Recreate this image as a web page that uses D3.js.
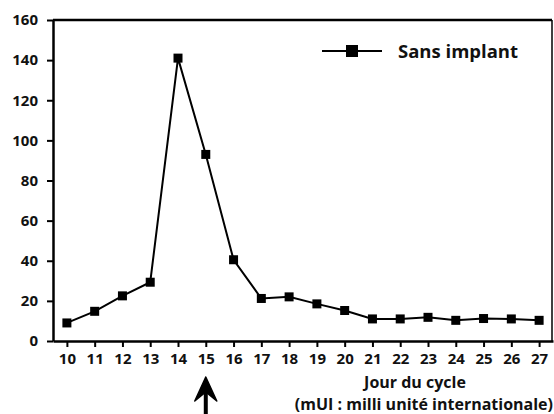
<!DOCTYPE html>
<html>
<head>
<meta charset="utf-8">
<script src="https://cdn.jsdelivr.net/npm/d3@7"></script>
<style>
    body { margin: 0; background: #fff; }
    svg text { font-family: "Open Sans", Lato, sans-serif; font-weight: bold; fill: #111; }
</style>
</head>
<body>
<div id="chart"></div>
<script>
// Jour du cycle and LH level (mUI)
const days = [10, 11, 12, 13, 14, 15, 16, 17, 18, 19, 20, 21, 22, 23, 24, 25, 26, 27];
const sansImplant = [9, 14.8, 22.5, 29.3, 141, 93, 40.5, 21.2, 22, 18.5, 15.2, 11, 11, 11.8, 10.3, 11.2, 11, 10.3];
const yTicks = [0, 20, 40, 60, 80, 100, 120, 140, 160];
const seriesName = 'Sans implant';
const xTitle = 'Jour du cycle';
const unitNote = '(mUI : milli unité internationale)';
const arrowDay = 15;

const width = 554;
const height = 414;
const margin = { top: 20, right: 1, bottom: 73, left: 53 };

const svg = d3.select('#chart')
    .append('svg')
    .attr('width', width)
    .attr('height', height);

const x = d3.scaleLinear()
    .domain([9.5, 27.5])
    .range([margin.left, width - margin.right]);

const y = d3.scaleLinear()
    .domain([0, 160])
    .range([height - margin.bottom, margin.top]);

// Frame: top and right lines
svg.append('line')
    .attr('x1', margin.left).attr('x2', width - margin.right - 1)
    .attr('y1', y(160)).attr('y2', y(160))
    .attr('stroke', '#000').attr('stroke-width', 2.5);
svg.append('line')
    .attr('x1', width - margin.right - 1).attr('x2', width - margin.right - 1)
    .attr('y1', y(160)).attr('y2', y(0))
    .attr('stroke', '#000').attr('stroke-width', 1.5);

// Y axis
const yAxis = svg.append('g')
    .attr('transform', `translate(${margin.left},0)`)
    .call(d3.axisLeft(y).tickValues(yTicks).tickSize(6).tickSizeOuter(0).tickPadding(9));
yAxis.select('.domain').attr('stroke-width', 2.5);
yAxis.selectAll('.tick line').attr('stroke-width', 2);
yAxis.selectAll('.tick text').attr('font-size', 15).attr('fill', '#111');

// X axis
const xAxis = svg.append('g')
    .attr('transform', `translate(0,${y(0)})`)
    .call(d3.axisBottom(x).tickValues(days).tickSize(6).tickSizeOuter(0).tickPadding(6));
xAxis.select('.domain').attr('stroke-width', 2.5);
xAxis.selectAll('.tick line').attr('stroke-width', 2);
xAxis.selectAll('.tick text').attr('font-size', 15).attr('fill', '#111');

// Line
const data = days.map((d, i) => ({ day: d, value: sansImplant[i] }));
const line = d3.line()
    .x(d => x(d.day))
    .y(d => y(d.value));

svg.append('path')
    .datum(data)
    .attr('fill', 'none')
    .attr('stroke', '#000')
    .attr('stroke-width', 2)
    .attr('d', line);

const ms = 9;
svg.append('g')
    .selectAll('rect')
    .data(data)
    .enter()
    .append('rect')
    .attr('x', d => x(d.day) - ms / 2)
    .attr('y', d => y(d.value) - ms / 2)
    .attr('width', ms)
    .attr('height', ms)
    .attr('fill', '#000');

// Legend
const legend = svg.append('g').attr('transform', 'translate(322,51)');
legend.append('line')
    .attr('x1', 0).attr('x2', 60)
    .attr('stroke', '#000').attr('stroke-width', 2);
legend.append('rect')
    .attr('x', 30 - 6).attr('y', -6)
    .attr('width', 12).attr('height', 12)
    .attr('fill', '#000');
legend.append('text')
    .attr('x', 76).attr('y', 7)
    .attr('font-size', 18.5)
    .text(seriesName);

// Axis titles
svg.append('text')
    .attr('x', 415).attr('y', 388)
    .attr('text-anchor', 'middle')
    .attr('font-size', 16)
    .attr('font-weight', 600)
    .text(xTitle);
svg.append('text')
    .attr('x', 553).attr('y', 410)
    .attr('text-anchor', 'end')
    .attr('font-size', 16)
    .attr('font-weight', 600)
    .text(unitNote);

// Arrow under day 15
const ax = x(arrowDay);
svg.append('line')
    .attr('x1', ax).attr('x2', ax)
    .attr('y1', 390).attr('y2', 414)
    .attr('stroke', '#000').attr('stroke-width', 4);
svg.append('path')
    .attr('d', `M${ax},377 L${ax - 11},401 L${ax},392 L${ax + 11},401 Z`)
    .attr('fill', '#000')
    .attr('stroke', '#000')
    .attr('stroke-width', 1.5)
    .attr('stroke-linejoin', 'round');
</script>
</body>
</html>
